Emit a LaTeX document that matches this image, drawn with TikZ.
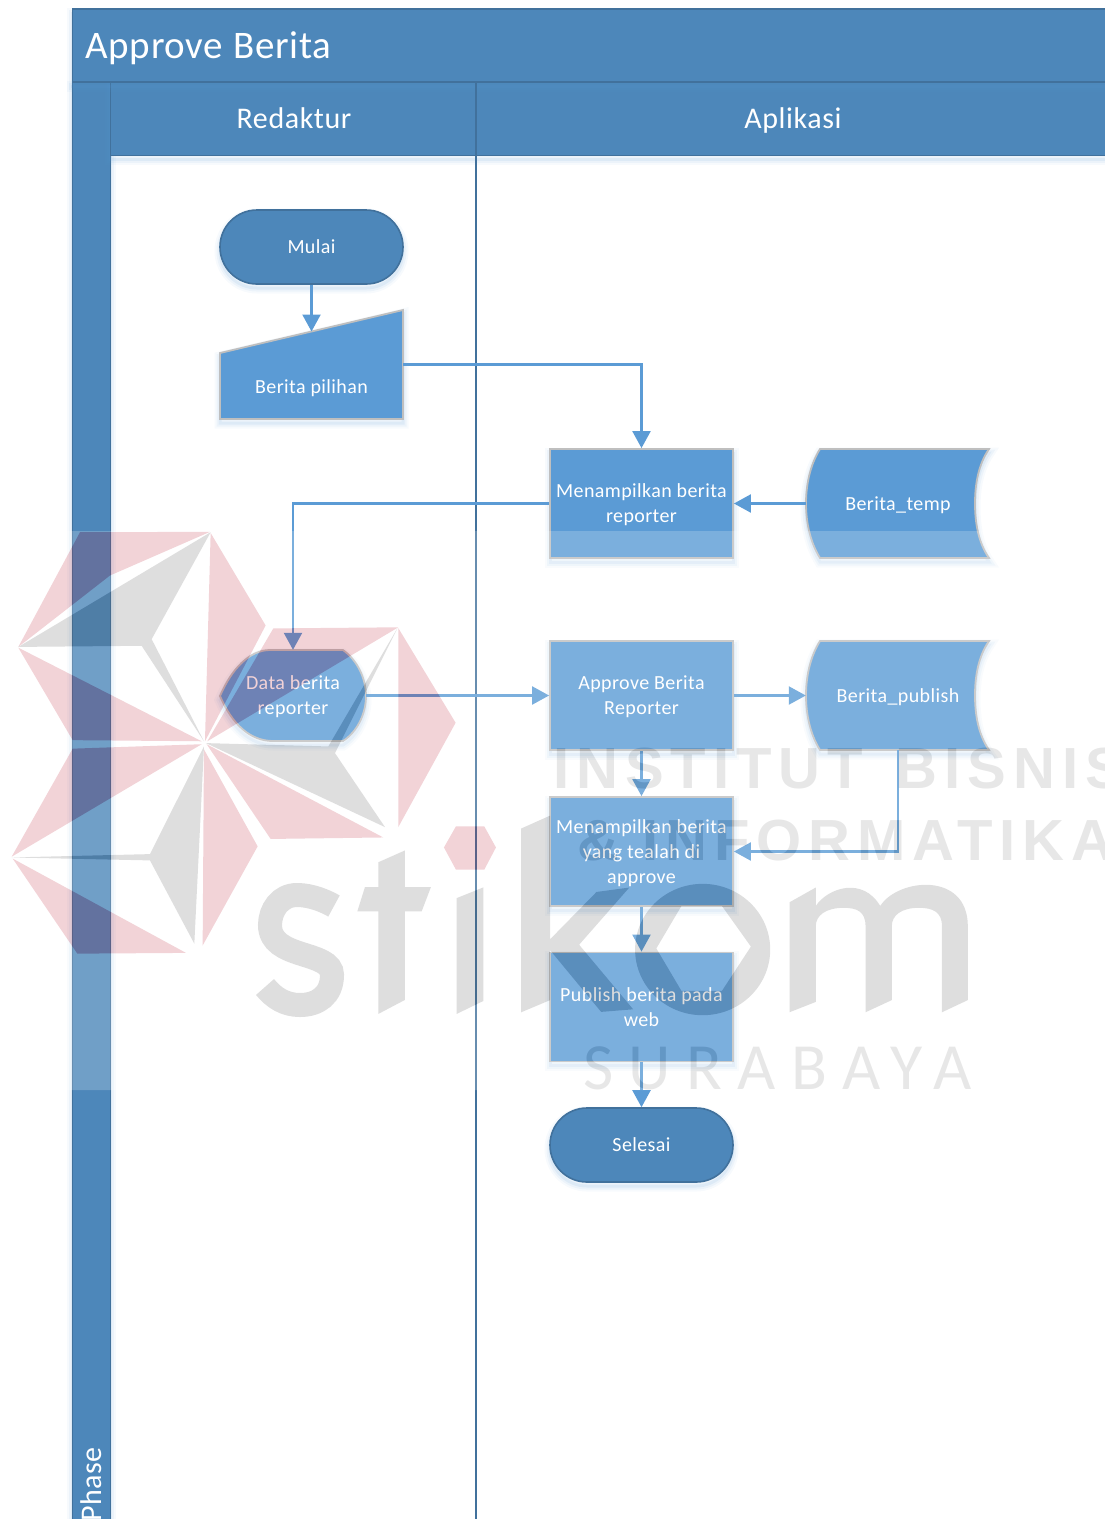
\documentclass[tikz,border=0pt]{standalone}
\usepackage{fontspec}
\setmainfont[LetterSpace=2]{Carlito}
\newfontfamily\wmbold[LetterSpace=12]{Liberation Sans Bold}
\newfontfamily\wmreg[LetterSpace=23.3]{Carlito}
\usetikzlibrary{arrows.meta}
\definecolor{lanefill}{HTML}{4D87BA}
\definecolor{laneline}{HTML}{41719C}
\definecolor{boxfill}{HTML}{5B9BD5}
\definecolor{boxline}{HTML}{BFBFBF}
\definecolor{wmred}{RGB}{190,34,55}
\definecolor{wmgrey}{RGB}{90,90,90}
\definecolor{wmtext}{RGB}{135,135,135}
\newcommand\topstrut{\rule{0pt}{19.5pt}}
\newcommand\botstrut{\rule[-6pt]{0pt}{6pt}}
\tikzset{
  softshadow/.style={
    preaction={draw=boxfill,draw opacity=.05,fill=none,line width=11pt,transform canvas={yshift=-4pt}},
    preaction={draw=boxfill,draw opacity=.07,fill=none,line width=7pt,transform canvas={yshift=-4pt}},
    preaction={draw=boxfill,draw opacity=.10,fill=none,line width=3pt,transform canvas={yshift=-4pt}}},
  lane/.style={fill=lanefill,draw=laneline,line width=1.4pt,softshadow},
  lanelabel/.style={text=white,inner sep=0pt,font=\fontsize{30}{34}\selectfont},
  bodytext/.style={text=white,align=center,font=\fontsize{20}{25}\selectfont},
  flowbox/.style={rectangle,fill=boxfill,draw=boxline,line width=1.8pt,minimum width=183pt,minimum height=109pt,inner sep=0pt,softshadow,bodytext},
  terminal/.style={rectangle,rounded corners=36.9pt,fill=lanefill,draw=laneline,line width=1.6pt,minimum width=183pt,minimum height=74pt,inner sep=0pt,softshadow,bodytext},
  shapepath/.style={fill=boxfill,draw=boxline,line width=1.8pt,softshadow},
  shapelabel/.style={inner sep=0pt,bodytext},
  frame/.style={minimum width=#1,minimum height=109pt,inner sep=0pt},
  flow/.style={draw=boxfill,line width=2.2pt,-{Triangle[length=17pt,width=18pt]}},
}
\begin{document}
\begin{tikzpicture}[x=1pt,y=-1pt]
\useasboundingbox (0,0) rectangle (1105,1519);
\clip (0,0) rectangle (1105,1519);
% swimlane frame
\path[lane] (72.7,82) rectangle (110.5,1525);
\path[lane] (110.5,82) rectangle (1112,155.5);
\path[lane] (72.7,9) rectangle (1112,82);
\draw[laneline,line width=2pt] (476,82) -- (476,1525);
\node[lanelabel,anchor=base west,font=\fontsize{39}{44}\selectfont] (title) at (85,58) {Approve Berita};
\node[lanelabel,anchor=base] (redaktur) at (294,128) {Redaktur};
\node[lanelabel,anchor=base] (aplikasi) at (793,128) {Aplikasi};
\node[lanelabel,rotate=90,anchor=base east] (phase) at (101,1447) {Phase};
% shapes
\node[terminal] (mulai) at (311.5,247) {\topstrut Mulai\botstrut};
\path[shapepath] (220,353) -- (403,310) -- (403,419) -- (220,419) -- cycle;
\node[frame=183pt] (pilihan) at (311.5,364.5) {};
\coordinate (pilihantop) at (311.5,331.5);
\node[shapelabel] (pilihantext) at (311.5,386.5) {\topstrut Berita pilihan\botstrut};
\node[flowbox] (tampil) at (641.5,503.5) {\topstrut Menampilkan berita\\reporter\botstrut};
\path[shapepath] (820,449) -- (989,449) .. controls (978,465) and (975,485) .. (975,503.5) .. controls (975,522) and (978,542) .. (989,558) -- (820,558) .. controls (810,542) and (806,522) .. (806,503.5) .. controls (806,485) and (810,465) .. (820,449) -- cycle;
\node[frame=184pt] (temp) at (898,503.5) {};
\node[shapelabel] (temptext) at (898,503.5) {\topstrut Berita\_temp\botstrut};
\path[shapepath] (220,696) .. controls (232,668) and (250,650) .. (270,650) -- (343,650) .. controls (357,660) and (366,678) .. (366,696) .. controls (366,714) and (357,732) .. (343,741) -- (273,741) .. controls (250,741) and (232,724) .. (220,696) -- cycle;
\node[minimum width=146pt,minimum height=91pt,inner sep=0pt,bodytext] (data) at (293,695.5) {\topstrut Data berita\\reporter\botstrut};
\node[flowbox] (approve) at (641.5,695.5) {\topstrut Approve Berita\\Reporter\botstrut};
\path[shapepath] (820,641) -- (989,641) .. controls (978,657) and (975,677) .. (975,695.5) .. controls (975,714) and (978,734) .. (989,750) -- (820,750) .. controls (810,734) and (806,714) .. (806,695.5) .. controls (806,677) and (810,657) .. (820,641) -- cycle;
\node[frame=184pt] (publish) at (898,695.5) {};
\node[shapelabel] (publishtext) at (898,695.5) {\topstrut Berita\_publish\botstrut};
\node[flowbox] (tampildua) at (641.5,851.5) {\topstrut Menampilkan berita\\yang tealah di\\approve\botstrut};
\node[flowbox] (web) at (641.5,1007) {\topstrut Publish berita pada\\web\botstrut};
\node[terminal] (selesai) at (641.5,1145) {\topstrut Selesai\botstrut};
% connectors
\draw[flow] (mulai.south) -- (pilihantop);
\draw[flow] (pilihan.east) -| (tampil.north);
\draw[flow] (temp.west) -- (tampil.east);
\draw[flow] (tampil.west) -| (data.north);
\draw[flow] (data.east) -- (approve.west);
\draw[flow] (approve.east) -- (publish.west);
\draw[flow] (approve.south) -- (tampildua.north);
\draw[flow] (publish.south) |- (tampildua.east);
\draw[flow] (tampildua.south) -- (web.north);
\draw[flow] (web.south) -- (selesai.north);
% watermark
\begin{scope}[transparency group,opacity=.2]
\fill[white] (0,531) rectangle (1105,1090);
\begin{scope}[shift={(0,520)},xscale=.3333,yscale=.37]
\fill[wmred] (55,343) -- (240,33) -- (630,32) -- (330,150) -- cycle;
\fill[wmgrey] (632,33) -- (455,322) -- (612,598) -- (425,340) -- (55,343) -- cycle;
\fill[wmred] (55,345) -- (218,595) -- (605,598) -- cycle;
\fill[wmred] (632,35) -- (797,285) -- (615,598) -- cycle;
\fill[wmred] (820,293) -- (1195,290) -- (622,598) -- cycle;
\fill[wmgrey] (618,603) -- (985,612) -- (1192,293) -- (1005,630) -- (1155,830) -- cycle;
\fill[wmred] (1195,292) -- (1367,548) -- (1195,830) -- cycle;
\fill[wmred] (620,606) -- (1150,858) -- (812,862) -- cycle;
\fill[wmred] (35,910) -- (218,618) -- (605,606) -- cycle;
\fill[wmgrey] (612,612) -- (583,1145) -- (450,920) -- (35,912) -- (450,903) -- cycle;
\fill[wmred] (38,915) -- (232,1172) -- (558,1170) -- cycle;
\fill[wmred] (612,620) -- (773,882) -- (608,1150) -- cycle;
\fill[wmred] (1368,828) -- (1453,828) -- (1488,885) -- (1453,945) -- (1368,945) -- (1332,885) -- cycle;
% t, i
\fill[wmgrey] (1135,925) -- (1215,893) -- (1215,992) -- (1293,992) -- (1265,1058) -- (1215,1058) -- (1215,1297) -- (1135,1335) -- (1135,1058) -- (1072,1058) -- (1095,992) -- (1135,992) -- cycle;
\fill[wmgrey] (1370,1022) -- (1450,993) -- (1450,1300) -- (1370,1335) -- cycle;
\end{scope}
% s
\draw[wmgrey,line width=24pt] (334,906) .. controls (318,897) and (305,895) .. (297,895) .. controls (280,895) and (270,910) .. (270,925) .. controls (270,960) and (332,950) .. (332,975) .. controls (332,995) and (318,1005) .. (300,1005) .. controls (285,1005) and (274,998) .. (265,987);
\begin{scope}[shift={(500,620)},xscale=.386,yscale=.369]
% k
\fill[wmgrey] (55,565) -- (130,530) -- (130,865) -- (250,737) -- (335,725) -- (205,880) -- (345,1055) -- (262,1062) -- (130,895) -- (130,1030) -- (55,1063) -- cycle;
% o
\fill[wmgrey,even odd rule] (525,893) ellipse [x radius=175,y radius=178]
  (405,890) -- (470,775) -- (575,775) -- (650,885) -- (575,1005) -- (470,1005) -- cycle;
% m
\fill[wmgrey] (750,1063) -- (750,765) -- (818,725) -- (818,775) .. controls (850,725) and (940,695) .. (985,775) .. controls (1030,700) and (1212,680) .. (1212,830) -- (1212,1030) -- (1145,1063) -- (1145,830) .. controls (1145,790) and (1120,780) .. (1085,780) .. controls (1040,780) and (1015,800) .. (1015,830) -- (1015,1030) -- (947,1063) -- (947,830) .. controls (947,790) and (925,780) .. (890,780) .. controls (845,780) and (818,800) .. (818,830) -- (818,1035) -- cycle;
\end{scope}
\node[anchor=west,inner sep=0pt,text=wmtext,font=\wmbold\fontsize{58}{60}\selectfont] (wminstitut) at (553,769) {INSTITUT\hspace{10pt} BISNIS};
\node[anchor=west,inner sep=0pt,text=wmtext,font=\wmbold\fontsize{58}{60}\selectfont] (wminformatika) at (577,841) {\&\ INFORMATIKA};
\node[anchor=west,inner sep=0pt,text=wmtext,font=\wmreg\fontsize{66}{68}\selectfont] (wmsurabaya) at (583,1068) {SURABAYA};
\end{scope}
\end{tikzpicture}
\end{document}
